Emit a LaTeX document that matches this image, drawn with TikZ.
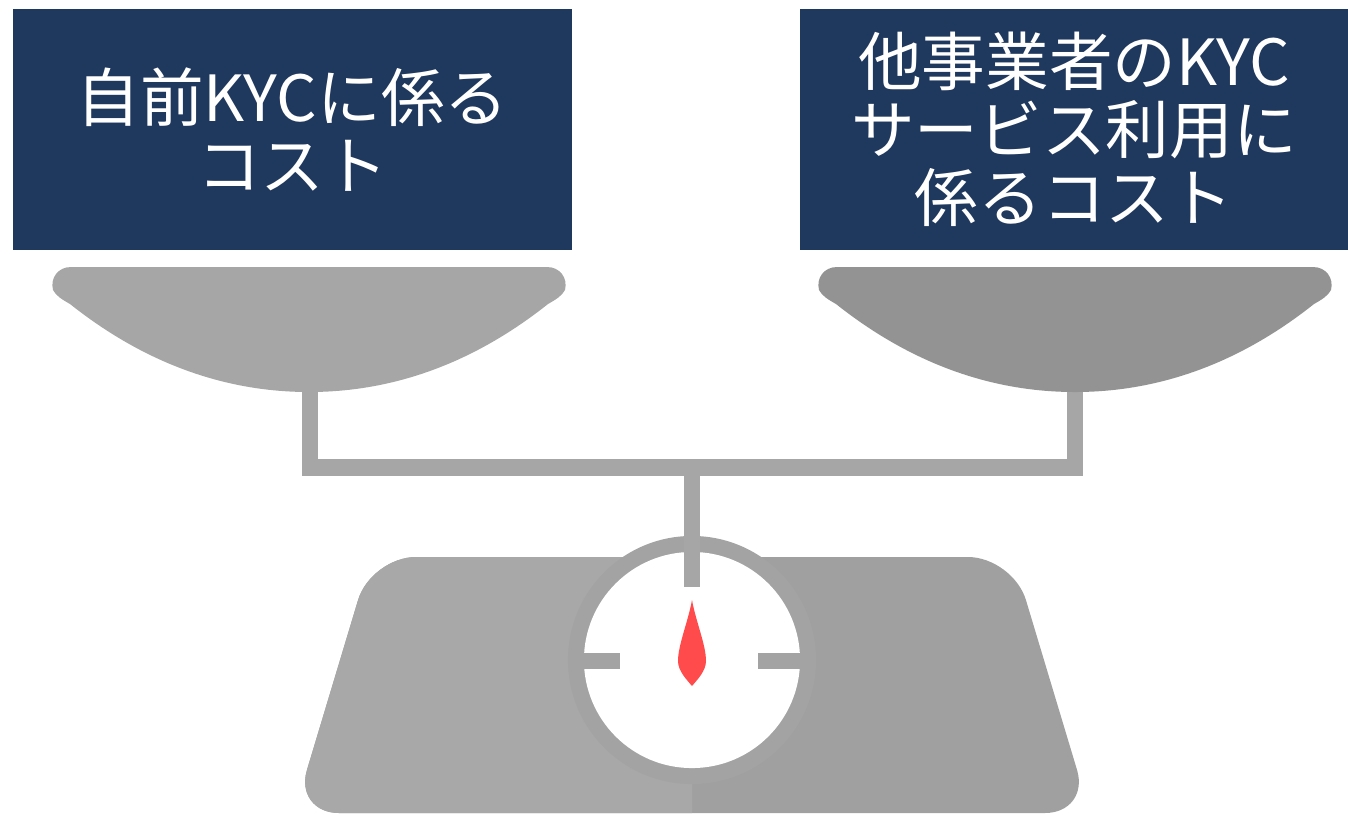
\documentclass[tikz,border=0pt]{standalone}
\usepackage{fontspec}
\setmainfont{Noto Sans CJK JP}
\newfontfamily\jpfont{Noto Sans CJK JP}

\definecolor{navy}{RGB}{31,56,93}
\definecolor{panL}{RGB}{166,166,166}
\definecolor{panR}{RGB}{147,147,147}
\definecolor{frameG}{RGB}{166,166,166}
\definecolor{baseL}{RGB}{168,168,168}
\definecolor{baseR}{RGB}{160,160,160}
\definecolor{ringG}{RGB}{163,163,163}
\definecolor{needleR}{RGB}{255,75,75}

\tikzset{
  costbox/.style={fill=navy, draw=none, text=white, align=center,
    minimum height=2.41cm, inner sep=0pt,
    font=\jpfont\fontsize{18.1pt}{19.3pt}\selectfont},
  pan/.pic={
    \path[pic actions] (-238,267) -- (238,267)
      .. controls (251,267) and (259,278) .. (256,290)
      .. controls (253,296) and (246,300) .. (239,304)
      .. controls (166,362) and (86,392) .. (0,392)
      .. controls (-86,392) and (-166,362) .. (-239,304)
      .. controls (-246,300) and (-253,296) .. (-256,290)
      .. controls (-259,278) and (-251,267) .. (-238,267) -- cycle;
  }
}

\begin{document}
\begin{tikzpicture}[x=0.01cm, y=-0.01cm]
  \useasboundingbox (0,0) rectangle (1348,814);

  % cost labels
  \node[costbox, minimum width=5.59cm] (own) at (292.5,129.5) {自前KYCに係る\\コスト};
  \node[costbox, minimum width=5.48cm] (other) at (1074,129.5) {他事業者のKYC\\サービス利用に\\係るコスト};

  % beam and hangers
  \coordinate (hangL) at (310,380);
  \coordinate (hangR) at (1075,380);
  \draw[frameG, line width=0.165cm, line join=miter]
    (hangL) -- (310,467.5) -- (1075,467.5) -- (hangR);

  % pans
  \pic[fill=panL] at (309,0) {pan};
  \pic[fill=panR] at (1075,0) {pan};

  % base, two tones split at the centre
  \def\basepath{(692,557) -- (371,557) -- (294,813) -- (1090,813) -- (1013,557) -- cycle}
  \fill[baseR, rounded corners=0.45cm] \basepath;
  \begin{scope}
    \clip (0,0) rectangle (692,814);
    \fill[baseL, rounded corners=0.45cm] \basepath;
  \end{scope}

  % dial
  \node[circle, fill=ringG, minimum size=2.48cm, inner sep=0pt] (ring) at (692,660) {};
  \node[circle, fill=white, minimum size=2.16cm, inner sep=0pt] (face) at (692,660) {};
  \fill[frameG] (684,459) rectangle (700,587);
  \fill[ringG] (575,653) rectangle (620,669);
  \fill[ringG] (758,653) rectangle (809,669);

  % needle
  \fill[needleR] (692,600)
    .. controls (696,622) and (706,645) .. (706,661)
    .. controls (706,671) and (697,680) .. (692,686)
    .. controls (687,680) and (678,671) .. (678,661)
    .. controls (678,645) and (688,622) .. (692,600) -- cycle;
\end{tikzpicture}
\end{document}
